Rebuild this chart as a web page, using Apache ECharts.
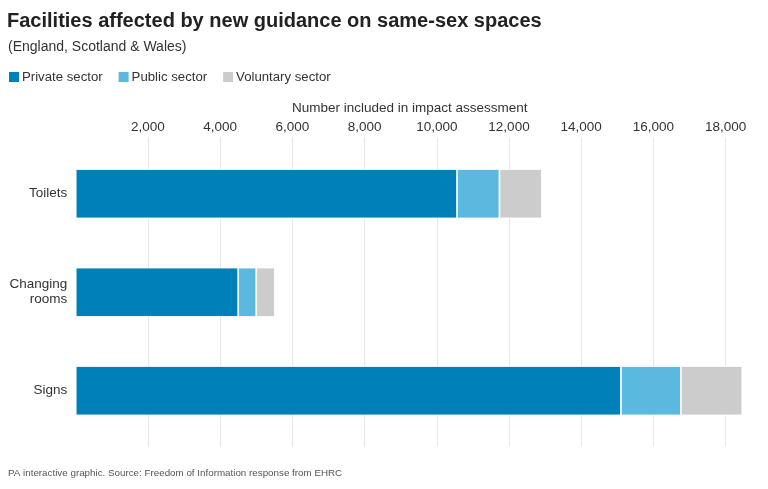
<!DOCTYPE html>
<html>
<head>
<meta charset="utf-8">
<script src="https://cdn.jsdelivr.net/npm/echarts@6/dist/echarts.min.js"></script>
<style>
html,body{margin:0;padding:0;background:#fff;}
#chart{width:768px;height:489px;}
</style>
</head>
<body>
<div id="chart"></div>
<script>
var categories = ['Toilets', 'Changing\nrooms', 'Signs'];
var privateSector = [10560, 4500, 15100];
var publicSector = [1175, 500, 1660];
var voluntarySector = [1175, 515, 1700];
var tickValues = [2000, 4000, 6000, 8000, 10000, 12000, 14000, 16000, 18000];
var tickLabels = ['2,000', '4,000', '6,000', '8,000', '10,000', '12,000', '14,000', '16,000', '18,000'];

var FONT = '"Liberation Sans", Arial, sans-serif';
var chart = echarts.init(document.getElementById('chart'), null, {renderer: 'canvas'});
var axisMax = 18500;
var gridLeft = 75.7, gridRight = 24.3;

chart.setOption({
  animation: false,
  backgroundColor: '#fff',
  textStyle: {fontFamily: FONT},
  title: [
    {text: 'Facilities affected by new guidance on same-sex spaces', left: 7, top: 11, padding: 0,
     textStyle: {fontFamily: FONT, fontSize: 20, fontWeight: 'bold', color: '#222'}},
    {text: '(England, Scotland & Wales)', left: 8, top: 40, padding: 0,
     textStyle: {fontFamily: FONT, fontSize: 14, fontWeight: 'normal', color: '#333'}},
    {text: 'PA interactive graphic. Source: Freedom of Information response from EHRC', left: 8, top: 468, padding: 0,
     textStyle: {fontFamily: FONT, fontSize: 9.8, fontWeight: 'normal', color: '#555'}}
  ],
  legend: {
    left: 2, top: 65, icon: 'rect', itemWidth: 12, itemHeight: 12, itemGap: 14,
    textStyle: {fontFamily: FONT, fontSize: 13.2, color: '#333', padding: [0, 0, 0, -3]},
    data: ['Private sector', 'Public sector', 'Voluntary sector']
  },
  grid: [
    {left: gridLeft, right: gridRight, top: 144.5, height: 295.5},
    {left: gridLeft, right: gridRight, top: 137, height: 310}
  ],
  xAxis: [
    {gridIndex: 0, type: 'value', min: 0, max: axisMax, show: false, splitLine: {show: false}},
    {gridIndex: 1, type: 'value', min: 0, max: axisMax, interval: 2000, position: 'top',
     name: 'Number included in impact assessment', nameLocation: 'middle', nameGap: 22,
     nameTextStyle: {fontFamily: FONT, fontSize: 13.5, color: '#333'},
     axisLine: {show: false}, axisTick: {show: false},
     axisLabel: {show: true, margin: 3, fontFamily: FONT, fontSize: 13.5, color: '#333',
       showMinLabel: false, showMaxLabel: false,
       formatter: function (v) { var i = tickValues.indexOf(v); return i >= 0 ? tickLabels[i] : ''; }},
     splitLine: {show: true, showMinLine: false, showMaxLine: false, lineStyle: {color: '#e6e6e6', width: 1}}}
  ],
  yAxis: [
    {gridIndex: 0, type: 'category', data: categories, inverse: true,
     axisLine: {show: false}, axisTick: {show: false}, splitLine: {show: false},
     axisLabel: {margin: 8.5, fontFamily: FONT, fontSize: 13.5, color: '#333', lineHeight: 15, align: 'right'}},
    {gridIndex: 1, type: 'value', min: 0, max: 1, show: false}
  ],
  series: [
    {name: 'Private sector', type: 'bar', stack: 'total', xAxisIndex: 0, yAxisIndex: 0, barWidth: '50%',
     data: privateSector, itemStyle: {color: '#0080b8', borderColor: '#fff', borderWidth: 0.8}},
    {name: 'Public sector', type: 'bar', stack: 'total', xAxisIndex: 0, yAxisIndex: 0, barWidth: '50%',
     data: publicSector, itemStyle: {color: '#5bb8de', borderColor: '#fff', borderWidth: 0.8}},
    {name: 'Voluntary sector', type: 'bar', stack: 'total', xAxisIndex: 0, yAxisIndex: 0, barWidth: '50%',
     data: voluntarySector, itemStyle: {color: '#cccccc', borderColor: '#fff', borderWidth: 0.8}}
  ]
});
</script>
</body>
</html>
